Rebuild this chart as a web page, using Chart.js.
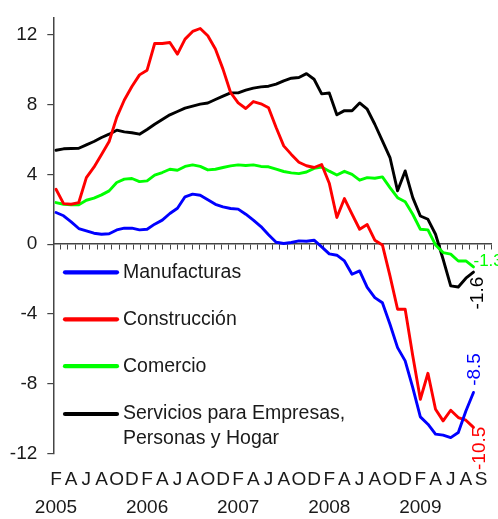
<!DOCTYPE html>
<html>
<head>
<meta charset="utf-8">
<script src="https://cdn.jsdelivr.net/npm/chart.js@4/dist/chart.umd.min.js"></script>
<style>
html,body{margin:0;padding:0;background:#ffffff;}
canvas{display:block;}
</style>
</head>
<body>
<canvas id="c" width="498" height="519"></canvas>
<script>
// ---- Data (monthly, Feb 2005 - Sep 2009) ----
const months = [
  '2005-02','2005-03','2005-04','2005-05','2005-06','2005-07','2005-08','2005-09','2005-10','2005-11','2005-12',
  '2006-01','2006-02','2006-03','2006-04','2006-05','2006-06','2006-07','2006-08','2006-09','2006-10','2006-11','2006-12',
  '2007-01','2007-02','2007-03','2007-04','2007-05','2007-06','2007-07','2007-08','2007-09','2007-10','2007-11','2007-12',
  '2008-01','2008-02','2008-03','2008-04','2008-05','2008-06','2008-07','2008-08','2008-09','2008-10','2008-11','2008-12',
  '2009-01','2009-02','2009-03','2009-04','2009-05','2009-06','2009-07','2009-08','2009-09'
];

const manufacturas = [
  1.82, 1.63, 1.28, 0.90, 0.76, 0.63, 0.57, 0.60, 0.82, 0.92, 0.92, 0.82, 0.86, 1.15, 1.38, 1.76,
  2.06, 2.72, 2.87, 2.81, 2.55, 2.29, 2.14, 2.05, 2.01, 1.72, 1.38, 1.01, 0.54, 0.11, 0.04, 0.10,
  0.19, 0.17, 0.23, -0.15, -0.55, -0.63, -0.96, -1.72, -1.53, -2.48, -3.06, -3.36, -4.59, -5.93,
  -6.69, -8.22, -9.90, -10.32, -10.89, -10.95, -11.09, -10.80, -9.56, -8.50
];
const construccion = [
  3.15, 2.33, 2.29, 2.39, 3.82, 4.42, 5.14, 5.89, 7.27, 8.27, 9.04, 9.71, 9.98, 11.51, 11.51, 11.57,
  10.90, 11.76, 12.20, 12.37, 11.95, 11.19, 10.04, 8.70, 8.10, 7.78, 8.18, 8.05, 7.82, 6.69, 5.64, 5.15,
  4.70, 4.50, 4.40, 4.57, 3.50, 1.53, 2.62, 1.72, 0.86, 1.13, 0.23, -0.04, -1.82, -3.73,
  -3.73, -6.40, -8.89, -7.40, -9.46, -10.13, -9.52, -9.94, -10.09, -10.50
];
const comercio = [
  2.39, 2.29, 2.26, 2.26, 2.52, 2.64, 2.83, 3.06, 3.54, 3.73, 3.77, 3.59, 3.63, 3.96, 4.11, 4.30,
  4.24, 4.46, 4.55, 4.46, 4.26, 4.30, 4.40, 4.49, 4.55, 4.51, 4.55, 4.46, 4.44, 4.30, 4.17, 4.09,
  4.05, 4.14, 4.35, 4.43, 4.19, 3.97, 4.18, 4.00, 3.67, 3.82, 3.78, 3.86, 3.25, 2.67,
  2.43, 1.72, 0.86, 0.82, -0.04, -0.48, -0.57, -0.96, -0.96, -1.30
];
const servicios = [
  5.39, 5.47, 5.49, 5.50, 5.70, 5.89, 6.12, 6.31, 6.54, 6.44, 6.39, 6.31, 6.58, 6.88, 7.15, 7.42,
  7.61, 7.80, 7.92, 8.03, 8.10, 8.30, 8.49, 8.68, 8.68, 8.83, 8.95, 9.02, 9.06, 9.18, 9.37, 9.52,
  9.56, 9.78, 9.46, 8.62, 8.67, 7.42, 7.66, 7.65, 8.10, 7.74, 6.88, 5.93, 4.97, 3.06,
  4.20, 2.67, 1.62, 1.43, 0.57, -0.86, -2.39, -2.45, -1.95, -1.60
];

const seriesNames = ['Manufacturas', 'Construcción', 'Comercio', 'Servicios para Empresas, Personas y Hogar'];
const legendLines = [['Manufacturas'], ['Construcción'], ['Comercio'], ['Servicios para Empresas,', 'Personas y Hogar']];
const endLabels = ['-8.5', '-10.5', '-1.3', '-1.6'];

// ---- Tick labels ----
const tickLetters = ['F','A','J','A','O','D','F','A','J','A','O','D','F','A','J','A','O','D',
                     'F','A','J','A','O','D','F','A','J','A','S'];
const yearLabels = ['2005','2006','2007','2008','2009'];
const yTicks = [-12, -8, -4, 0, 4, 8, 12];

// ---- Styles ----
const FONT = '"Liberation Sans", Arial, Helvetica, sans-serif';
const TEXT = '#1a1a1a';
const AXIS = '#454545';
const colors = ['#0000ff', '#ff0000', '#00ff00', '#000000'];
const seriesValues = [manufacturas, construccion, comercio, servicios];

const datasets = seriesValues.map((vals, i) => ({
  label: seriesNames[i],
  data: vals.map((v, k) => ({ x: k, y: v })),
  borderColor: colors[i],
  backgroundColor: colors[i],
  borderWidth: 2.9,
  pointRadius: 0,
  tension: 0,
  fill: false,
  borderJoinStyle: 'round',
  borderCapStyle: 'round'
}));

// Legend drawn inside the plot area
const legendPlugin = {
  id: 'insideLegend',
  afterDraw(chart) {
    const ctx = chart.ctx;
    const rowsY = [272.3, 319.3, 366.2, 414.0];
    ctx.save();
    ctx.font = '19.5px ' + FONT;
    ctx.textBaseline = 'middle';
    ctx.textAlign = 'left';
    chart.data.datasets.forEach((ds, i) => {
      const y = rowsY[i];
      ctx.strokeStyle = ds.borderColor;
      ctx.lineWidth = 4.2;
      ctx.lineCap = 'round';
      ctx.beginPath();
      ctx.moveTo(65, y);
      ctx.lineTo(117, y);
      ctx.stroke();
      ctx.fillStyle = TEXT;
      legendLines[i].forEach((line, j) => {
        ctx.fillText(line, 123, y + j * 24.3);
      });
    });
    ctx.restore();
  }
};

// End-of-series value labels
const endLabelPlugin = {
  id: 'endLabels',
  afterDatasetsDraw(chart) {
    const ctx = chart.ctx;
    const cfg = [
      { dx: 1,  dy: -23, rot: true,  size: 19 },
      { dx: 6,  dy: 21,  rot: true,  size: 19 },
      { dx: 0,  dy: -6,  rot: false, size: 17 },
      { dx: 4,  dy: 21,  rot: true,  size: 19 }
    ];
    ctx.save();
    chart.data.datasets.forEach((ds, i) => {
      const meta = chart.getDatasetMeta(i);
      const pt = meta.data[meta.data.length - 1];
      const c = cfg[i];
      ctx.save();
      ctx.font = c.size + 'px ' + FONT;
      ctx.translate(pt.x + c.dx, pt.y + c.dy);
      ctx.fillStyle = ds.borderColor;
      ctx.textBaseline = 'middle';
      if (c.rot) {
        ctx.rotate(-Math.PI / 2);
        ctx.textAlign = 'center';
      } else {
        ctx.textAlign = 'left';
      }
      ctx.fillText(endLabels[i], 0, 0);
      ctx.restore();
    });
    ctx.restore();
  }
};

new Chart(document.getElementById('c'), {
  type: 'line',
  data: { labels: months, datasets },
  plugins: [legendPlugin, endLabelPlugin],
  options: {
    responsive: false,
    animation: false,
    devicePixelRatio: 1,
    layout: { padding: { top: 17.5, right: 6.3, bottom: 0, left: 0 } },
    plugins: { legend: { display: false }, tooltip: { enabled: false } },
    scales: {
      x: {
        type: 'linear',
        position: 'bottom',
        min: -0.356,
        max: 57.4,
        grid: { display: false, drawTicks: false },
        border: { display: false },
        afterBuildTicks: (s) => { s.ticks = tickLetters.map((_, k) => ({ value: 2 * k })); },
        afterFit: (s) => { s.height = 65.5; s.paddingLeft = 0; s.paddingRight = 0; },
        ticks: {
          autoSkip: false,
          maxRotation: 0,
          minRotation: 0,
          padding: 12.75,
          color: TEXT,
          font: { family: FONT, size: 19, lineHeight: 1.447 },
          callback: (v) => {
            const k = Math.round(v / 2);
            return (k % 6 === 0) ? [tickLetters[k], yearLabels[k / 6]] : tickLetters[k];
          }
        }
      },
      xt: {
        type: 'linear',
        axis: 'x',
        position: { y: 0 },
        min: 0,
        max: 60,
        afterBuildTicks: (s) => { s.ticks = Array.from({ length: 61 }, (_, k) => ({ value: k })); },
        ticks: { display: false },
        grid: { drawOnChartArea: false, drawTicks: true, tickLength: 5, color: AXIS, lineWidth: 1 },
        border: { display: true, color: AXIS, width: 1.5 }
      },
      y: {
        type: 'linear',
        position: 'left',
        min: -12,
        max: 13,
        afterBuildTicks: (s) => { s.ticks = yTicks.map(v => ({ value: v })); },
        afterFit: (s) => { s.width = 53.3; s.paddingTop = 0; s.paddingBottom = 0; },
        grid: { drawOnChartArea: false, drawTicks: true, tickLength: 6, color: AXIS, lineWidth: 1.2 },
        border: { display: true, color: AXIS, width: 1.5 },
        ticks: { padding: 10, color: TEXT, font: { family: FONT, size: 19 } }
      }
    }
  }
});
</script>
</body>
</html>
